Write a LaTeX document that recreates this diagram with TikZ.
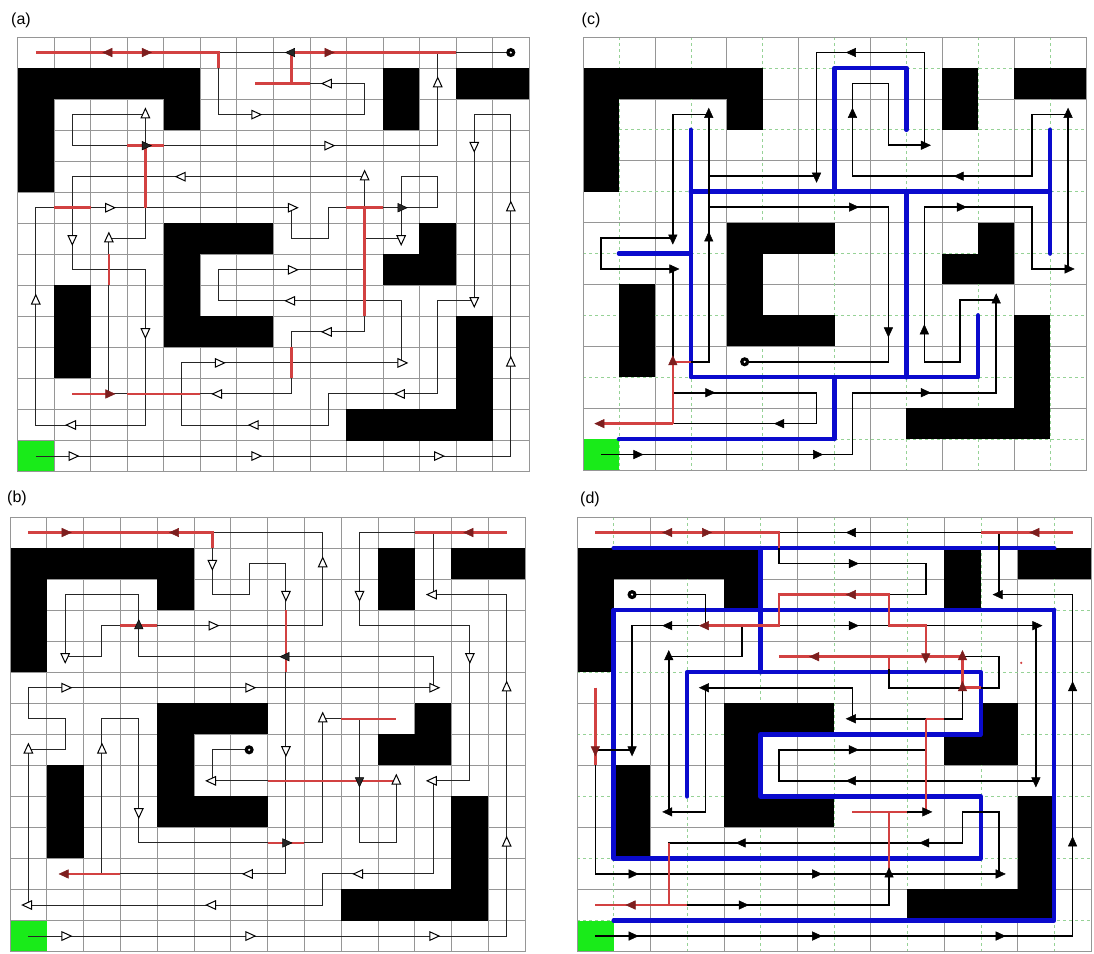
\documentclass[tikz,border=0pt]{standalone}
\usepackage{fontspec}
\setmainfont{Liberation Sans}
\definecolor{pred}{RGB}{210,65,65}
\definecolor{dred}{RGB}{125,30,30}
\definecolor{pblue}{RGB}{10,10,205}
\definecolor{sgreen}{RGB}{25,235,25}
\definecolor{gline}{RGB}{150,150,150}
\definecolor{dgreen}{RGB}{150,210,150}
\tikzset{
 gthin/.style={draw=gline, line width=0.6pt},
 gdash/.style={draw=dgreen, line width=0.6pt, dash pattern=on 3pt off 3pt},
 frame/.style={draw=gline, line width=0.9pt},
 pa/.style={draw=black!85, line width=1pt},
 pc/.style={draw=black, line width=1.6pt},
 rl/.style={draw=pred, line width=2.5pt},
 bl/.style={draw=pblue, line width=4.5pt, line cap=round, line join=round},
 aopen/.style={draw=black, fill=white, line width=1pt},
 adark/.style={draw=black, fill=black!85, line width=0.5pt},
 ared/.style={draw=dred, fill=dred, line width=0.5pt},
 afill/.style={draw=black, fill=black, line width=0.5pt},
 lab/.style={font=\fontsize{16}{18}\selectfont, inner sep=0pt}
}
\newcommand\tarr[4]{\filldraw[#1,shift={(#2,#3)}] (#4:6pt) -- (#4+127:5.3pt) -- (#4-127:5.3pt) -- cycle;}
\newcommand\mazeobs{%
 \fill[black] (0,1) rectangle (5,2);
 \fill[black] (0,1) rectangle (1,5);
 \fill[black] (4,1) rectangle (5,3);
 \fill[black] (10,1) rectangle (11,3);
 \fill[black] (12,1) rectangle (14,2);
 \fill[black] (4,6) rectangle (7,7);
 \fill[black] (4,6) rectangle (5,10);
 \fill[black] (4,9) rectangle (7,10);
 \fill[black] (1,8) rectangle (2,11);
 \fill[black] (11,6) rectangle (12,8);
 \fill[black] (10,7) rectangle (12,8);
 \fill[black] (12,9) rectangle (13,13);
 \fill[black] (9,12) rectangle (13,13);
 \fill[sgreen] (0,13) rectangle (1,14);
}
\newcommand\gridAB{%
 \foreach \i in {0,...,14} {\draw[gthin] (\i,0)--(\i,14); \draw[gthin] (0,\i)--(14,\i);}
}
\newcommand\gridCD{%
 \foreach \i in {0,2,...,14} {\draw[gthin] (\i,0)--(\i,14); \draw[gthin] (0,\i)--(14,\i);}
 \foreach \i in {1,3,...,13} {\draw[gdash] (\i,0)--(\i,14); \draw[gdash] (0,\i)--(14,\i);}
}
\newcommand\startpt[2]{\fill[black] (#1,#2) circle (4.6pt); \fill[white] (#1,#2) circle (1.2pt);}
\begin{document}
\begin{tikzpicture}[x=1pt,y=-1pt]
\useasboundingbox (0,0) rectangle (1094,953);
\fill[white] (0,0) rectangle (1094,953);
\node[lab] (la) at (21,20) {(a)};
\node[lab] (lc) at (591,20) {(c)};
\node[lab] (lb) at (17,498) {(b)};
\node[lab] (ld) at (590,499) {(d)};

% ---------------- panel (a)
\begin{scope}[shift={(17.5pt,-37pt)},x=36.54pt,y=-31.04pt]
 \gridAB
 \mazeobs
 \draw[frame] (0,0) rectangle (14,14);
 \begin{scope}[shift={(0.5,0.5)}]
  \draw[pa] (5,0)--(7,0);
  \draw[pa] (11.5,0)--(13,0);
  \draw[pa] (7.5,1)--(9,1)--(9,2)--(5,2)--(5,0);
  \draw[pa] (11,0)--(11,3)--(1,3)--(1,2)--(3,2)--(3,6)--(2,6)--(2,11)--(4.5,11);
  \draw[pa] (0,13)--(13,13)--(13,2)--(12,2)--(12,8)--(11,8)--(11,11)--(8,11)--(8,12)--(4,12)--(4,10)--(10,10)--(10,8)--(5,8)--(5,7)--(9,7);
  \draw[pa] (1,4)--(9,4)--(9,9)--(7,9)--(7,11)--(4.5,11);
  \draw[pa] (1,4)--(1,7)--(3,7)--(3,12)--(0,12)--(0,5)--(7,5)--(7,6)--(8,6)--(8,5)--(11,5)--(11,4)--(10,4)--(10,6)--(9,6);
  \draw[rl] (0,0)--(5,0)--(5,0.5);
  \draw[rl] (7,0)--(11.5,0);
  \draw[rl] (7,0)--(7,1); \draw[rl] (6,1)--(7.5,1);
  \draw[rl] (2.5,3)--(3.5,3); \draw[rl] (3,3)--(3,5);
  \draw[rl] (2,6.5)--(2,7.5);
  \draw[rl] (1,11)--(2,11); \draw[rl] (2.5,11)--(4.5,11);
  \draw[rl] (7,9.5)--(7,10.5);
  \draw[rl] (9,5)--(9,8.5); \draw[rl] (8.5,5)--(9.5,5);
  \draw[rl] (0.5,5)--(1.5,5);
  \foreach \c/\r/\a in {2/0/180,3/0/0,8/0/0,2/11/0} {\tarr{ared}{\c}{\r}{\a}}
  \foreach \c/\r/\a in {7/0/180,3/3/0,10/5/0} {\tarr{adark}{\c}{\r}{\a}}
  \foreach \c/\r/\a in {8/1/180,6/2/0,11/1/90,8/3/0,3/2/90,12/3/270,4/4/180,9/4/90,2/5/0,7/5/0,13/5/90,1/6/270,2/6/90,10/6/270,7/7/0,0/8/90,12/8/270,7/8/180,3/9/270,8/9/180,5/10/0,10/10/0,13/10/90,5/11/180,10/11/180,1/12/180,6/12/180,1/13/0,6/13/0,11/13/0} {\tarr{aopen}{\c}{\r}{\a}}
  \startpt{13}{0}
 \end{scope}
\end{scope}

% ---------------- panel (b)
\begin{scope}[shift={(10pt,-517pt)},x=36.79pt,y=-31.04pt]
 \gridAB
 \mazeobs
 \draw[frame] (0,0) rectangle (14,14);
 \begin{scope}[shift={(0.5,0.5)}]
  \draw[pa] (5,0)--(8,0);
  \draw[pa] (8,0)--(8,3)--(2,3)--(2,4)--(1,4)--(1,2)--(3,2)--(3,4)--(11,4)--(11,5)--(0,5)--(0,6)--(1,6)--(1,7)--(0,7)--(0,12)--(8,12)--(8,11)--(11,11)--(11,8)--(12,8)--(12,3)--(9,3)--(9,0)--(10.5,0);
  \draw[pa] (5,0)--(5,2)--(6,2)--(6,1)--(7,1)--(7,11)--(1,11);
  \draw[pa] (11,0)--(11,2)--(13,2)--(13,13)--(0,13);
  \draw[pa] (2,11)--(2,6)--(3,6)--(3,10)--(8,10)--(8,6)--(9,6)--(9,10)--(10,10)--(10,8);
  \draw[pa] (6,7)--(5,7)--(5,8)--(6.5,8);
  \draw[rl] (0,0)--(5,0)--(5,0.5);
  \draw[rl] (10.5,0)--(13,0);
  \draw[rl] (2.5,3)--(3.5,3);
  \draw[rl] (7,2.5)--(7,4.5);
  \draw[rl] (8.5,6)--(10,6);
  \draw[rl] (6.5,8)--(10,8);
  \draw[rl] (6.5,10)--(7.5,10);
  \draw[rl] (1,11)--(2.5,11);
  \foreach \c/\r/\a in {1/0/0,4/0/180,12/0/180,1/11/180} {\tarr{ared}{\c}{\r}{\a}}
  \foreach \c/\r/\a in {3/3/90,7/4/180,9/8/270,7/10/0} {\tarr{adark}{\c}{\r}{\a}}
  \foreach \c/\r/\a in {8/1/90,5/1/270,7/2/270,9/2/270,11/2/180,5/3/0,1/4/270,12/4/270,1/5/0,6/5/0,11/5/0,13/5/90,8/6/90,0/7/90,2/7/90,7/7/270,5/8/180,10/8/90,11/8/180,3/9/270,13/10/90,6/11/180,9/11/180,0/12/180,5/12/180,1/13/0,6/13/0,11/13/0} {\tarr{aopen}{\c}{\r}{\a}}
  \startpt{6}{7}
 \end{scope}
\end{scope}

% ---------------- panel (c)
\begin{scope}[shift={(583pt,-37pt)},x=35.93pt,y=-30.93pt]
 \gridCD
 \mazeobs
 \draw[frame] (0,0) rectangle (14,14);
 \draw[bl] (7,5)--(7,1)--(9,1)--(9,3);
 \draw[bl] (3,3)--(3,11)--(11,11)--(11,9);
 \draw[bl] (3,5)--(13,5);
 \draw[bl] (13,3)--(13,7);
 \draw[bl] (9,5)--(9,11);
 \draw[bl] (1,7)--(3,7);
 \draw[bl] (7,11)--(7,13)--(1,13);
 \begin{scope}[shift={(0.5,0.5)}]
  \draw[pc] (9,0)--(6,0)--(6,4)--(3,4);
  \draw[pc] (9,0)--(9,3)--(8,3)--(8,1)--(7,1)--(7,4)--(12,4)--(12,2)--(13,2)--(13,7)--(12,7)--(12,5)--(9,5)--(9,10)--(10,10)--(10,8)--(11,8)--(11,11)--(7,11)--(7,13)--(0,13);
  \draw[pc] (3,2)--(2,2)--(2,6)--(0,6)--(0,7)--(2,7)--(2,10);
  \draw[pc] (3,2)--(3,10)--(2,10);
  \draw[pc] (3,5)--(8,5)--(8,10)--(4,10);
  \draw[pc] (2,11)--(6,11)--(6,12)--(2,12);
  \draw[rl] (2,10)--(2,12); \draw[rl] (0,12)--(2,12); \draw[rl] (2,10)--(2.5,10);
  \foreach \c/\r/\a in {2/10/90,0/12/180} {\tarr{ared}{\c}{\r}{\a}}
  \foreach \c/\r/\a in {7/0/180,3/2/90,7/2/90,13/2/90,9/3/0,6/4/270,10/4/180,7/5/0,10/5/0,2/6/270,3/6/90,2/7/0,13/7/0,11/8/90,8/9/270,9/9/90,3/11/0,9/11/0,5/12/180,1/13/0,6/13/0} {\tarr{afill}{\c}{\r}{\a}}
  \startpt{4}{10}
 \end{scope}
\end{scope}

% ---------------- panel (d)
\begin{scope}[shift={(577pt,-517pt)},x=36.71pt,y=-31.04pt]
 \gridCD
 \mazeobs
 \draw[frame] (0,0) rectangle (14,14);
 \draw[bl] (1,1)--(13,1);
 \draw[bl] (5,1)--(5,5);
 \draw[bl] (1,3)--(13,3);
 \draw[bl] (1,3)--(1,11)--(11,11)--(11,9)--(5,9)--(5,7)--(11,7)--(11,5)--(3,5)--(3,9);
 \draw[bl] (13,3)--(13,13)--(1,13);
 \begin{scope}[shift={(0.5,0.5)}]
  \draw[pc] (5,0)--(11,0);
  \draw[pc] (5,0)--(5,1)--(9,1)--(9,2)--(8,2);
  \draw[pc] (11,0)--(11,2)--(13,2)--(13,13)--(0,13);
  \draw[pc] (1,2)--(3,2)--(3,3)--(1,3)--(1,7)--(0,7)--(0,11)--(11,11)--(11,9)--(10,9)--(10,10)--(2,10)--(2,12)--(8,12)--(8,9)--(9,9);
  \draw[pc] (4,3)--(4,4)--(2,4)--(2,9)--(3,9)--(3,5)--(7,5)--(7,6)--(10,6)--(10,5);
  \draw[pc] (5,3)--(12,3)--(12,8)--(5,8)--(5,7)--(9,7);
  \draw[pc] (8,4)--(11,4)--(11,5)--(8,5)--cycle;
  \draw[rl] (0,0)--(5,0)--(5,0.5);
  \draw[rl] (10.5,0)--(13,0);
  \draw[rl] (3,3)--(5,3)--(5,2)--(8,2)--(8,3)--(9,3)--(9,4);
  \draw[rl] (5,4)--(10,4)--(10,5)--(10.5,5);
  \draw[rl] (8,4)--(8,4.4);
  \draw[rl] (0,5)--(0,7.5);
  \draw[rl] (9,6)--(9,9); \draw[rl] (9,6)--(9.5,6);
  \draw[rl] (7,9)--(8.5,9); \draw[rl] (8,9)--(8,11);
  \draw[rl] (2,10)--(2,12); \draw[rl] (0,12)--(2.5,12);
  \fill[pred] (11.6,4.2) circle (1.2pt);
  \foreach \c/\r/\a in {2/0/180,3/0/0,12/0/180,7/2/180,3/3/180,6/4/180,9/4/270,10/4/90,10/5/90,0/7/270,1/12/180} {\tarr{ared}{\c}{\r}{\a}}
  \foreach \c/\r/\a in {7/0/180,7/1/0,11/2/180,2/3/180,7/3/0,12/3/0,2/4/90,3/5/180,13/5/90,7/6/180,1/7/270,7/7/0,7/8/180,12/8/270,2/9/180,9/9/0,4/10/180,9/10/180,13/10/90,1/11/0,6/11/0,8/11/90,11/11/0,4/12/0,1/13/0,6/13/0,11/13/0} {\tarr{afill}{\c}{\r}{\a}}
  \startpt{1}{2}
 \end{scope}
\end{scope}
\end{tikzpicture}
\end{document}
